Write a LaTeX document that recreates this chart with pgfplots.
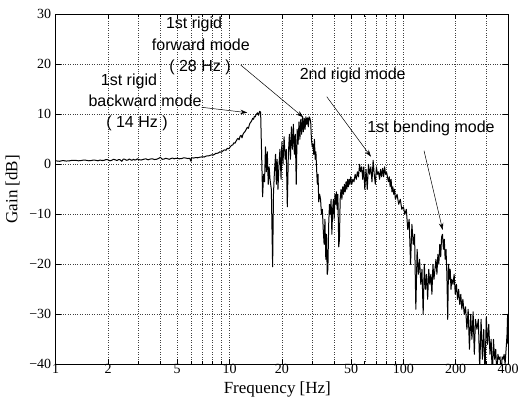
\documentclass[border=0pt]{standalone}
\usepackage{fontspec}
\setmainfont{Liberation Serif}
\newfontfamily\hv{Liberation Sans}
\usepackage{pgfplots}
\pgfplotsset{compat=1.18}
\usetikzlibrary{arrows.meta}

\pgfplotstableread{
f g
1.00 0.7
1.05 0.6
1.1 0.75
1.15 0.65
1.2 0.7
1.25 0.8
1.3 0.8
1.35 0.7
1.4 0.75
1.45 0.85
1.5 0.8
1.55 0.7
1.6 0.75
1.65 0.85
1.7 0.8
1.75 0.7
1.8 0.85
1.85 0.75
1.9 0.8
1.95 0.95
2.0 0.9
2.05 0.7
2.1 0.8
2.15 1.0
2.2 0.9
2.25 0.75
2.3 0.95
2.35 0.9
2.4 0.6
2.45 1.05
2.5 1.0
2.55 0.8
2.6 0.85
2.65 1.05
2.7 0.9
2.75 0.8
2.8 1.0
2.85 0.85
2.9 0.9
2.95 1.1
3.0 0.95
3.1 0.85
3.2 1.0
3.3 1.1
3.4 0.9
3.5 1.05
3.6 1.1
3.7 0.95
3.8 1.0
3.9 1.15
4.0 1.4
4.1 1.0
4.2 1.05
4.3 1.2
4.4 1.1
4.5 1.0
4.6 1.15
4.7 1.25
4.8 1.1
4.9 1.2
5.0 1.2
5.15 1.1
5.3 1.15
5.45 1.3
5.6 1.25
5.75 1.15
5.9 1.2
6.0 0.6
6.05 1.3
6.2 1.25
6.4 1.35
6.55 1.3
6.7 1.4
6.85 1.45
7.0 1.5
7.15 1.45
7.3 1.6
7.45 1.7
7.6 1.7
7.75 1.8
7.9 1.9
8.05 1.85
8.2 2.0
8.35 2.2
8.5 2.2
8.65 2.3
8.8 2.5
8.95 2.4
9.1 2.6
9.25 2.8
9.4 2.9
9.55 2.8
9.7 3.2
9.85 3.1
10.0 3.3
10.15 3.6
10.3 3.8
10.45 3.9
10.6 4.3
10.75 4.2
10.9 4.6
11.05 5.0
11.2 5.2
11.35 4.9
11.5 5.6
11.65 5.8
11.8 5.3
11.95 6.0
12.1 6.3
12.25 6.5
12.4 6.8
12.55 7.2
12.7 7.4
12.85 7.2
13.0 7.9
13.15 8.3
13.3 8.5
13.45 8.8
13.6 9.2
13.75 9.0
13.9 9.6
14.05 9.5
14.2 9.9
14.35 10.1
14.5 10.3
14.7 9.8
14.9 10.6
15.1 10.4
15.5 -6.5
15.7 -2.0
15.9 -3.5
16.1 3.5
16.3 -1.5
16.5 2.5
16.7 -4.0
16.9 -0.5
17.1 -3.0
17.4 -5
17.7 -20.5
17.9 -6
18.1 -2
18.4 2
18.6 -4
18.8 1
19.0 -5
19.2 -1
19.5 3
19.8 -3
20.0 4.5
20.3 0
20.6 5.5
20.9 1
21.2 3
21.5 -8.5
21.8 2
22.1 6
22.4 1
22.7 7.5
23.0 3
23.3 8
23.6 2
23.9 6
24.2 -4
24.5 7
24.8 4
25.1 8.5
25.4 5
25.7 9
26.0 6
26.3 9.5
26.6 6.5
26.9 9.2
27.2 7
27.5 9.5
27.8 8
28.1 9.3
28.4 7.5
28.7 9.5
29.0 9.2
29.3 8.5
29.6 5
29.9 3.5
30.2 4
30.5 2
30.8 5
31.1 1
31.4 2.5
31.7 -1
32.0 -4
32.3 -2
32.6 -7.5
33.0 -6
33.4 -7
33.8 -10
34.2 -9
34.6 -13
35.0 -16
35.4 -11
35.8 -19
36.1 -14
36.5 -22
36.8 -21
37.2 -12
37.6 -8
38.0 -10
38.4 -7
38.8 -14
39.2 -9
39.6 -7
40.0 -11
40.4 -6
40.8 -8
41.2 -5.5
41.6 -9
42.0 -6
42.5 -16.5
42.9 -15
43.3 -7
43.8 -5
44.3 -7
44.8 -4.5
45.3 -6
45.8 -4
46.3 -5.5
46.8 -3.5
47.3 -5
47.8 -3
48.3 -4.5
48.8 -3
49.3 -4
49.8 -2.5
50.5 -4
51.2 -3
52.0 -3.5
52.8 -2
53.6 -3
54.4 -1.5
55.2 -2.5
56.0 0
56.8 -1.5
57.6 -0.5
58.4 -3
59.2 -0.5
60.0 -5
61.0 -1
62.0 -5
63.0 0
64.0 -2
65.0 -0.5
66.0 -3.5
67.0 0.8
68.0 -2
69.0 -4
70.0 -0.5
71.0 -2
72.0 -1.5
73.0 -3
74.0 -1
75.0 -2.5
76.0 -0.8
77.0 -2.5
78.0 -0.5
79.0 -2
80.0 -1.5
81.0 -2.5
82.0 -3.5
83.0 -2.5
84.0 -4.5
85.0 -3
86.0 -5.5
87.0 -4.5
88.0 -6
89.0 -5
90.0 -7
92.0 -6
94.0 -8
96.0 -7
98.0 -9
100 -8.5
102 -10
104 -9
106 -13
108 -11
110 -20
112 -12
114 -16
116 -14
118 -29
120 -17
122 -22
124 -19
126 -24
128 -21
130 -30
132 -20
134 -25
136 -22
138 -27
140 -21
142 -24
144 -22
146 -26
148 -20
150 -23
152 -21
154 -19
156 -22
158 -18
160 -20
162 -16
164 -18.5
166 -14.5
168 -14
170 -17
172 -15
174 -19
176 -17
178 -22
180 -31
182 -20
184 -23
186 -21
188 -25
190 -23
193 -24
196 -22
199 -26
202 -24
205 -27
208 -25
211 -28
214 -26
217 -29
220 -27
224 -30
228 -28.5
232 -33
236 -29
240 -37
244 -30
248 -35
252 -29.5
256 -38
260 -31
265 -33
270 -31
275 -41
280 -31
285 -39
290 -33
295 -42
300 -30.5
305 -36
310 -32
315 -38
320 -35
325 -43
330 -35
335 -39
340 -37
345 -42
350 -38
355 -39
360 -38.5
365 -42
370 -38.5
375 -39
380 -38
385 -40
390 -37
395 -34
398 -30
400 -36
}\gain

\begin{document}
\begin{tikzpicture}
\begin{axis}[
  name=ax,
  scale only axis,
  width=452.3pt, height=350pt,
  xmode=log,
  xmin=1, xmax=400, ymin=-40, ymax=30,
  xtick={1,2,5,10,20,50,100,200,400},
  xticklabels={1,2,5,10,20,50,100,200,400},
  minor xtick={3,4,6,7,8,9,30,40,60,70,80,90,300},
  ytick={-40,-30,-20,-10,0,10,20,30},
  yticklabels={−40,−30,−20,−10,0,10,20,30},
  tick align=inside,
  major tick length=5pt,
  minor tick length=3pt,
  xmajorgrids, xminorgrids, ymajorgrids,
  major grid style={dotted, black!75, line width=0.5pt},
  minor grid style={dotted, black!75, line width=0.5pt},
  axis line style={line width=0.8pt},
  every tick/.style={black, line width=0.6pt},
  tick label style={font=\fontsize{14}{15}\selectfont},
  xticklabel style={yshift=1.5pt, inner sep=1pt},
  yticklabel style={xshift=-1pt},
  label style={font=\fontsize{17}{19}\selectfont},
  xlabel={Frequency [Hz]},
  ylabel={Gain [dB]},
  xlabel style={at={(axis description cs:0.49,-0.073)}, anchor=center, inner sep=0pt},
  ylabel style={at={(axis description cs:-0.095,0.5)}, anchor=center},
]
\addplot[black, line width=1pt, line join=round] table[x=f, y=g] {\gain};

\begin{scope}[every node/.style={font=\hv\fontsize{16}{18}\selectfont, inner sep=0pt}]
\node at (rel axis cs:0.306,0.9723) {1st rigid};
\node at (rel axis cs:0.321,0.9123) {forward mode};
\node at (rel axis cs:0.319,0.8494) {( 28 Hz )};
\node at (rel axis cs:0.162,0.8094) {1st rigid};
\node at (rel axis cs:0.1974,0.7523) {backward mode};
\node at (rel axis cs:0.1797,0.6894) {( 14 Hz )};
\node at (rel axis cs:0.6566,0.8266) {2nd rigid mode};
\node at (rel axis cs:0.8298,0.6751) {1st bending mode};
\end{scope}
\begin{scope}[-{Stealth[length=7pt,width=4.5pt]}, line width=0.5pt]
\draw (rel axis cs:0.3228,0.7343) -- (rel axis cs:0.4236,0.7189);
\draw (rel axis cs:0.409,0.8551) -- (rel axis cs:0.5474,0.7057);
\draw (rel axis cs:0.5992,0.7646) -- (rel axis cs:0.6971,0.5931);
\draw (rel axis cs:0.8143,0.6103) -- (rel axis cs:0.8556,0.3837);
\end{scope}
\end{axis}
\path ([shift={(-55.7pt,-38.7pt)}]ax.south west) rectangle ([shift={(14pt,14.3pt)}]ax.north east);
\end{tikzpicture}
\end{document}
